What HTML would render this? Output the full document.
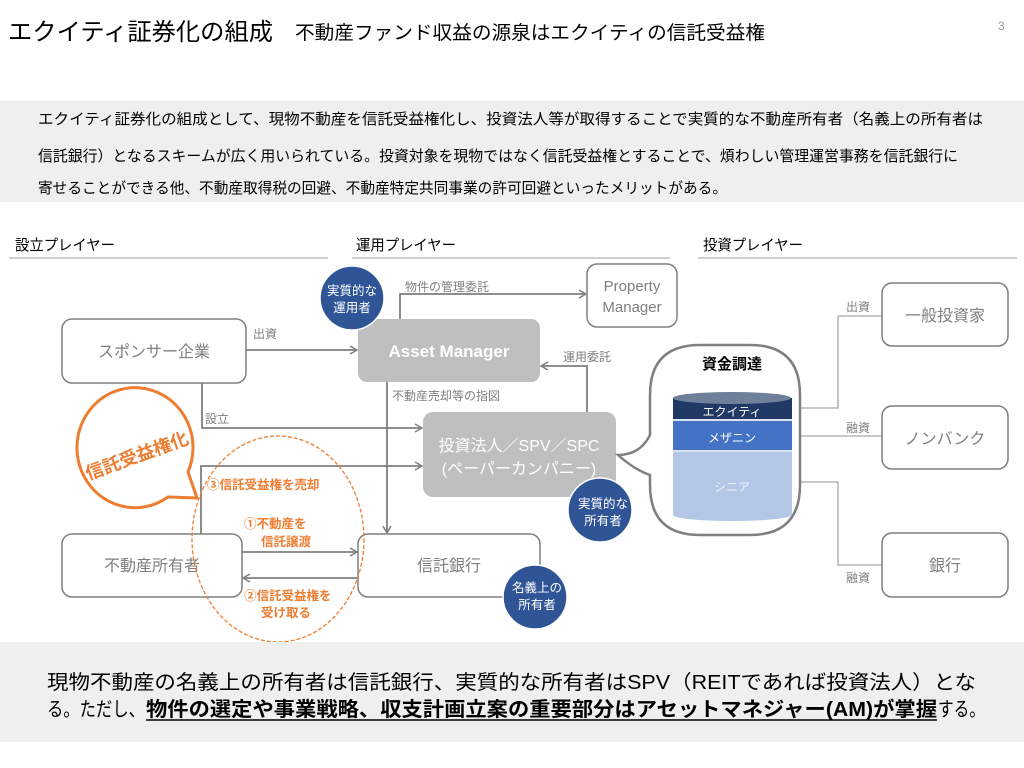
<!DOCTYPE html>
<html><head><meta charset="utf-8"><style>
html,body{margin:0;padding:0;background:#fff;width:1024px;height:768px;overflow:hidden}
svg{display:block}
text{font-family:"Liberation Sans","Noto Sans CJK JP",sans-serif}
</style></head><body>
<svg width="1024" height="768" viewBox="0 0 1024 768" xmlns="http://www.w3.org/2000/svg">
<defs>
<marker id="ar" markerWidth="10" markerHeight="10" refX="8" refY="5" orient="auto" markerUnits="userSpaceOnUse">
<path d="M1,1 L8,5 L1,9" fill="none" stroke="#7f7f7f" stroke-width="1.5"/></marker>
</defs>
<!-- title -->
<text x="8" y="40" font-size="24" fill="#000" textLength="265" lengthAdjust="spacingAndGlyphs">エクイティ証券化の組成</text>
<text x="295" y="39" font-size="19" fill="#000" textLength="470" lengthAdjust="spacingAndGlyphs">不動産ファンド収益の源泉はエクイティの信託受益権</text>
<text x="998" y="30" font-size="12" fill="#999">3</text>
<!-- top band -->
<rect x="0" y="101" width="1024" height="101" fill="#efefef"/>
<g font-size="15" fill="#000">
<text x="38" y="124" textLength="945" lengthAdjust="spacingAndGlyphs">エクイティ証券化の組成として、現物不動産を信託受益権化し、投資法人等が取得することで実質的な不動産所有者（名義上の所有者は</text>
<text x="38" y="161" textLength="920" lengthAdjust="spacingAndGlyphs">信託銀行）となるスキームが広く用いられている。投資対象を現物ではなく信託受益権とすることで、煩わしい管理運営事務を信託銀行に</text>
<text x="38" y="193" textLength="689" lengthAdjust="spacingAndGlyphs">寄せることができる他、不動産取得税の回避、不動産特定共同事業の許可回避といったメリットがある。</text>
</g>
<!-- section headers -->
<g font-size="15" fill="#000">
<text x="15" y="250" textLength="100" lengthAdjust="spacingAndGlyphs">設立プレイヤー</text>
<text x="356" y="250" textLength="100" lengthAdjust="spacingAndGlyphs">運用プレイヤー</text>
<text x="703" y="250" textLength="100" lengthAdjust="spacingAndGlyphs">投資プレイヤー</text>
</g>
<g stroke="#bfbfbf" stroke-width="1.5">
<line x1="9" y1="258" x2="328" y2="258"/>
<line x1="352" y1="258" x2="670" y2="258"/>
<line x1="698" y1="258" x2="1017" y2="258"/>
</g>
<!-- connectors -->
<g stroke="#7f7f7f" stroke-width="1.8" fill="none">
<line x1="246" y1="350" x2="357" y2="350" marker-end="url(#ar)"/>
<polyline points="202,383 202,428 422,428" marker-end="url(#ar)"/>
<polyline points="400,319 400,294 586,294" marker-end="url(#ar)"/>
<polyline points="587,412 587,366 541,366" marker-end="url(#ar)"/>
<line x1="387" y1="382" x2="387" y2="533" marker-end="url(#ar)"/>
<polyline points="201,534 201,466 422,466" marker-end="url(#ar)"/>
<line x1="242" y1="552" x2="357" y2="552" marker-end="url(#ar)"/>
<line x1="358" y1="578" x2="243" y2="578" marker-end="url(#ar)"/>
</g>
<g stroke="#a6a6a6" stroke-width="1.3" fill="none">
<polyline points="775,408 838,408 838,316 882,316"/>
<line x1="775" y1="436" x2="882" y2="436"/>
<polyline points="775,482 838,482 838,565 882,565"/>
</g>
<g font-size="12" fill="#7f7f7f">
<text x="253" y="338">出資</text>
<text x="205" y="423">設立</text>
<text x="405" y="291">物件の管理委託</text>
<text x="563" y="361">運用委託</text>
<text x="392" y="400">不動産売却等の指図</text>
<text x="846" y="311">出資</text>
<text x="846" y="432">融資</text>
<text x="846" y="582">融資</text>
</g>
<!-- boxes -->
<g fill="#fff" stroke="#7f7f7f" stroke-width="1.5">
<rect x="62" y="319" width="184" height="64" rx="10"/>
<rect x="587" y="264" width="90" height="63" rx="10"/>
<rect x="62" y="534" width="180" height="63" rx="10"/>
<rect x="358" y="534" width="182" height="63" rx="10"/>
<rect x="882" y="283" width="126" height="63" rx="10"/>
<rect x="882" y="406" width="126" height="63" rx="10"/>
<rect x="882" y="533" width="126" height="64" rx="10"/>
</g>
<rect x="358" y="319" width="182" height="63" rx="9" fill="#bfbfbf"/>
<rect x="423" y="412" width="193" height="85" rx="10" fill="#bfbfbf"/>
<g font-size="16" fill="#7f7f7f" text-anchor="middle">
<text x="154" y="357">スポンサー企業</text>
<text x="152" y="571">不動産所有者</text>
<text x="449" y="571">信託銀行</text>
<text x="945" y="321">一般投資家</text>
<text x="945" y="444">ノンバンク</text>
<text x="945" y="571">銀行</text>
<text x="632" y="291" font-size="15">Property</text>
<text x="632" y="312" font-size="15">Manager</text>
</g>
<text x="449" y="357" font-size="17" font-weight="bold" fill="#fff" text-anchor="middle">Asset Manager</text>
<g font-size="16" fill="#fff" text-anchor="middle">
<text x="519" y="451">投資法人／SPV／SPC</text>
<text x="519" y="474">(ペーパーカンパニー)</text>
</g>
<!-- funding bubble -->
<path d="M700,345 L750,345 Q800,345 800,395 L800,485 Q800,535 750,535 L700,535 Q650,535 650,485 L650,475 Q635,470 618,455 Q640,455 650,435 L650,395 Q650,345 700,345 Z" fill="#fff" stroke="#7f7f7f" stroke-width="2.5"/>
<text x="732" y="369" font-size="15" font-weight="bold" fill="#000" text-anchor="middle">資金調達</text>
<rect x="673" y="452" width="119" height="63" fill="#b4c7e7"/>
<ellipse cx="732" cy="515" rx="59" ry="6" fill="#b4c7e7"/>
<rect x="673" y="420" width="119" height="31" fill="#4472c4"/>
<line x1="673" y1="451" x2="792" y2="451" stroke="#dae3f3" stroke-width="2"/>
<rect x="673" y="398" width="119" height="21" fill="#1f3864"/>
<line x1="673" y1="420" x2="792" y2="420" stroke="#dae3f3" stroke-width="2"/>
<ellipse cx="732" cy="398" rx="59" ry="6" fill="#6d7f99"/>
<g font-size="12" fill="#fff" text-anchor="middle">
<text x="732" y="416">エクイティ</text>
<text x="732" y="442">メザニン</text>
<text x="732" y="491" fill="#eef3fb">シニア</text>
</g>
<!-- blue circles -->
<g fill="#2f5597" stroke="#fff" stroke-width="1.5">
<circle cx="352" cy="298" r="32"/>
<circle cx="600" cy="510" r="32"/>
<circle cx="535" cy="597" r="32"/>
</g>
<g font-size="12.5" fill="#fff" text-anchor="middle">
<text x="352" y="295">実質的な</text><text x="352" y="312">運用者</text>
<text x="603" y="508">実質的な</text><text x="603" y="525">所有者</text>
<text x="537" y="592">名義上の</text><text x="537" y="609">所有者</text>
</g>
<!-- orange -->
<ellipse cx="278" cy="539" rx="86" ry="103" fill="none" stroke="#ed7d31" stroke-width="1.3" stroke-dasharray="4,2"/>
<path d="M168,497 A58,60 0 1 1 188,472 L197,498 Z" fill="#fff" stroke="#ed7d31" stroke-width="3" stroke-linejoin="round"/>
<text x="137" y="462" font-size="18" font-weight="bold" fill="#ed7d31" text-anchor="middle" transform="rotate(-20 137 456)">信託受益権化</text>
<g font-size="12.5" font-weight="bold" fill="#ed7d31">
<text x="207" y="489">③信託受益権を売却</text>
<text x="244" y="528">①不動産を</text>
<text x="261" y="546">信託譲渡</text>
<text x="244" y="600">②信託受益権を</text>
<text x="261" y="617">受け取る</text>
</g>
<!-- bottom band -->
<rect x="0" y="642" width="1024" height="100" fill="#efefef"/>
<g font-size="20" fill="#000">
<text x="47" y="689" textLength="929" lengthAdjust="spacingAndGlyphs">現物不動産の名義上の所有者は信託銀行、実質的な所有者はSPV（REITであれば投資法人）とな</text>
<text x="47" y="716" textLength="98" lengthAdjust="spacingAndGlyphs">る。ただし、</text>
<text x="146" y="716" font-weight="bold" textLength="791" lengthAdjust="spacingAndGlyphs">物件の選定や事業戦略、収支計画立案の重要部分はアセットマネジャー(AM)が掌握</text>
<text x="938" y="716" textLength="47" lengthAdjust="spacingAndGlyphs">する。</text>
</g>
<line x1="146" y1="720" x2="937" y2="720" stroke="#000" stroke-width="1.5"/>
</svg>
</body></html>
